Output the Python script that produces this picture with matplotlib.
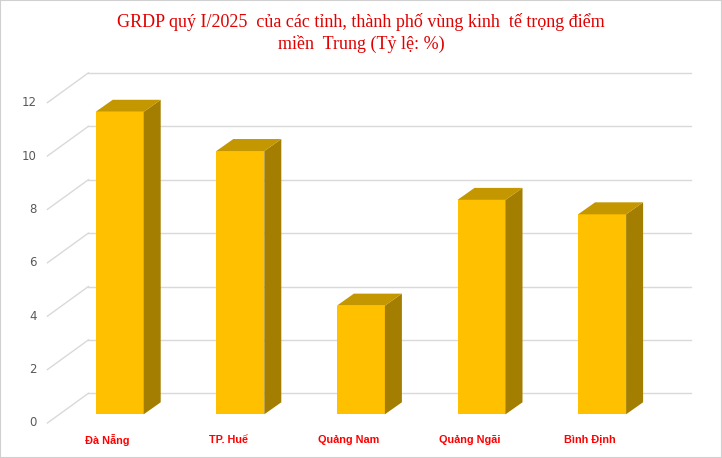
import matplotlib
matplotlib.use('agg')
import matplotlib.pyplot as plt
from matplotlib.patches import Polygon, Rectangle
from matplotlib.transforms import offset_copy

# data
provinces = ['Đà Nẵng', 'TP. Huế', 'Quảng Nam', 'Quảng Ngãi', 'Bình Định']
growth = [11.33, 9.86, 4.07, 8.03, 7.49]
yticks = [0, 2, 4, 6, 8, 10, 12]
title = 'GRDP quý I/2025  của các tỉnh, thành phố vùng kinh  tế trọng điểm\nmiền  Trung (Tỷ lệ: %)'

FRONT = '#FFC000'
TOP = '#C49600'
SIDE = '#A47E00'
GRID = '#D9D9D9'

W, H = 722, 458
fig = plt.figure(figsize=(W / 100, H / 100), dpi=100)
fig.patches.append(Rectangle((0, 0), 1, 1, transform=fig.transFigure,
                             fill=False, edgecolor='#D0D0D0', lw=1.5))

# axes = plane of the bar front faces
ax = fig.add_axes([59.4 / W, (H - 414.3) / H, 603 / W, 320.4 / H])
ax.set_xlim(-0.5, 4.5)
ax.set_ylim(0, 12)
ax.axis('off')

# pixel -> data unit sizes
ux = 5 / 603.0
uy = 12 / 320.4

# offsets of back wall and front edge (pixels) relative to bar plane
back = offset_copy(ax.transData, fig, x=29, y=21, units='dots')
front = offset_copy(ax.transData, fig, x=-12, y=-8.7, units='dots')

for t in yticks:
    ax.plot([-0.5, 4.5], [t, t], color=GRID, lw=1, transform=back, clip_on=False, zorder=1)
    # side wall diagonal from front to back
    x0, y0 = front.transform((-0.5, t))
    x1, y1 = back.transform((-0.5, t))
    fig.add_artist(plt.Line2D([x0 / W, x1 / W], [y0 / H, y1 / H], color=GRID, lw=1,
                              transform=fig.transFigure, zorder=1))
    ax.text(-0.5, t, str(t), transform=offset_copy(ax.transData, fig, x=-23, y=-8.7, units='dots'),
            ha='right', va='center', fontsize=8.5, color='#595959', family='DejaVu Sans')

# bars
w = 48 * ux
ddx = 17 * ux
ddy = 12 * uy
for i, v in enumerate(growth):
    ax.bar(i, v, width=w, color=FRONT, edgecolor='none', zorder=3, clip_on=False)
    r = i + w / 2
    l = i - w / 2
    ax.add_patch(Polygon([(r, 0), (r + ddx, ddy), (r + ddx, v + ddy), (r, v)],
                         closed=True, facecolor=SIDE, edgecolor='none', zorder=3, clip_on=False))
    ax.add_patch(Polygon([(l, v), (r, v), (r + ddx, v + ddy), (l + ddx, v + ddy)],
                         closed=True, facecolor=TOP, edgecolor='none', zorder=3, clip_on=False))
    ax.text(i, 0, provinces[i], transform=offset_copy(ax.transData, fig, x=-12, y=-26, units='dots'),
            ha='center', va='center', fontsize=7.8, fontweight='bold', color='#FF0000',
            family='Liberation Sans')

fig.text(0.5, 1 - 33 / H, title, ha='center', va='center', fontsize=13, color='#E00000',
         family='Liberation Serif', linespacing=1.3)

fig.savefig('out.png', dpi=100)
